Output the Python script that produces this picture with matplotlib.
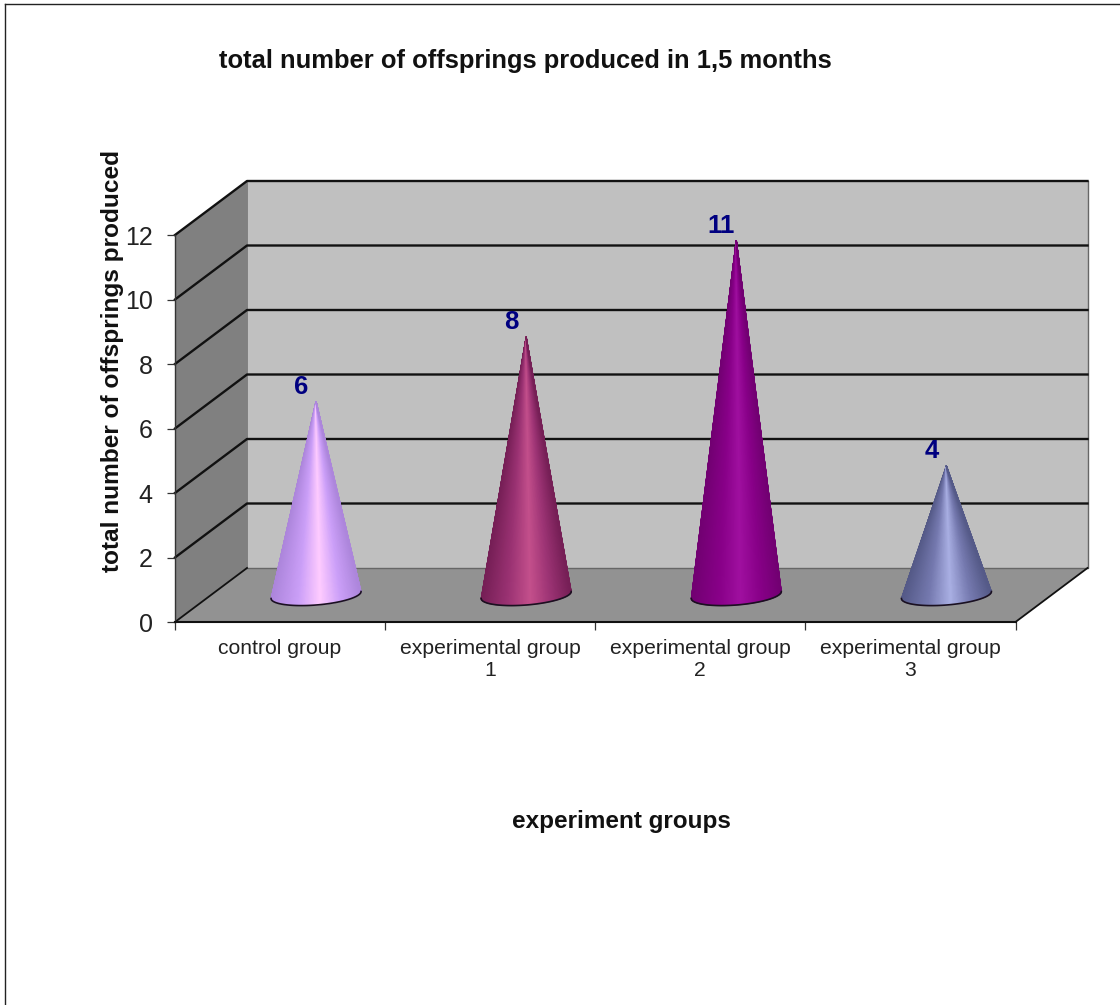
import numpy as np
import matplotlib
matplotlib.use('Agg')
import matplotlib.pyplot as plt
from matplotlib.colors import LinearSegmentedColormap
from matplotlib.lines import Line2D
from matplotlib.patches import Polygon

plt.rcParams['font.family'] = ['Liberation Sans', 'DejaVu Sans']

groups = ['control group', 'experimental group\n1', 'experimental group\n2', 'experimental group\n3']
offspring = [6, 8, 11, 4]
value_labels = ['6', '8', '11', '4']
y_ticks = [0, 2, 4, 6, 8, 10, 12]

# edge, middle, highlight colours of each cone
cone_colors = [('#ad86dc', '#cb9ff8', '#ffccff'),
               ('#761f56', '#9c3374', '#c4508c'),
               ('#720072', '#880088', '#a010a0'),
               ('#555a88', '#767ab0', '#aab0e4')]

W, H = 1120, 1005
fig = plt.figure(figsize=(W/100.0, H/100.0), dpi=100, facecolor='white')
ax = fig.add_axes([175.0/W, 1-622.0/H, 840.5/W, 387.0/H])
ax.set_xlim(0, 4)
ax.set_ylim(0, 12)
ax.patch.set_visible(False)

# depth of the fake 3d box, in data units
px_x = 4/840.5
px_y = 12/387.0
dx = 72*px_x
dy = 54*px_y

ax.add_patch(Polygon([(0, 0), (dx, dy), (dx, 12+dy), (0, 12)], fc='#808080', ec='none', clip_on=False, zorder=1))
ax.add_patch(Polygon([(dx, dy), (4+dx, dy), (4+dx, 12+dy), (dx, 12+dy)], fc='#c0c0c0', ec='none', clip_on=False, zorder=1))
ax.add_patch(Polygon([(0, 0), (4, 0), (4+dx, dy), (dx, dy)], fc='#929292', ec='none', clip_on=False, zorder=1))

# wall edges
ax.plot([dx, 4+dx, 4+dx], [dy, dy, 12+dy], color='#666666', lw=1.0, clip_on=False, zorder=1.5)
ax.plot([dx, dx], [dy, 12+dy], color='#777777', lw=0.6, clip_on=False, zorder=1.5)
ax.plot([0, dx], [0, dy], color='#111111', lw=1.3, clip_on=False, zorder=1.5)
ax.plot([4, 4+dx], [0, dy], color='#111111', lw=1.3, clip_on=False, zorder=1.5)

# gridlines go along the side wall and the back wall
for v in y_ticks[1:]:
    ax.plot([0, dx, 4+dx], [v, v+dy, v+dy], color='#111111', lw=1.7, clip_on=False, zorder=1.5)

# cones as a gouraud mesh from the tip down to the front half of the base
rx = 45*px_x
ry = 10*px_y
shear = 3.5*px_y
t = np.linspace(np.pi, 2*np.pi, 121)
for i in range(len(offspring)):
    cx = i+0.5+dx/2
    cy = dy/2
    edge, mid, high = cone_colors[i]
    cmap = LinearSegmentedColormap.from_list('c', [(0.0, edge), (0.3, mid), (0.55, high), (0.78, mid), (1.0, edge)])
    ex = cx+rx*np.cos(t)
    ey = cy+ry*np.sin(t)+shear*np.cos(t)
    tip = (cx, cy+offspring[i])
    X = np.vstack([np.full(t.shape, tip[0]), ex])
    Y = np.vstack([np.full(t.shape, tip[1]), ey])
    C = np.vstack([np.cos(t), np.cos(t)])
    ax.pcolormesh(X, Y, C, shading='gouraud', cmap=cmap, vmin=-1, vmax=1, clip_on=False, zorder=3)
    ax.plot(ex, ey, color='#1a1020', lw=1.2, clip_on=False, zorder=3.5)
    ax.annotate(value_labels[i], xy=tip, xytext=(-10.8, 10.5), textcoords='offset points',
                ha='center', va='center', fontsize=18.5, fontweight='bold', color='#000080',
                annotation_clip=False, zorder=4)

for s in ['top', 'right']:
    ax.spines[s].set_visible(False)
ax.spines['left'].set_color('#333333')
ax.spines['left'].set_linewidth(1.0)
ax.spines['bottom'].set_color('#111111')
ax.spines['bottom'].set_linewidth(1.5)

ax.set_yticks(y_ticks)
ax.tick_params(axis='y', length=6, width=0.9, color='#333333', labelsize=18, labelcolor='#222222', pad=10)
ax.set_xticks([0, 1, 2, 3, 4])
ax.set_xticklabels([])
ax.tick_params(axis='x', which='major', length=6, width=0.9, color='#333333')
ax.set_xticks([0.5, 1.5, 2.5, 3.5], minor=True)
ax.set_xticklabels(groups, minor=True, fontsize=15.2, color='#222222', linespacing=1.2)
ax.tick_params(axis='x', which='minor', length=0, pad=12.5)

fig.text(525.0/W, 1-61.0/H, 'total number of offsprings produced in 1,5 months', ha='center', va='center',
         fontsize=18.4, fontweight='bold', color='#111111')
fig.text(113.0/W, 1-361.0/H, 'total number of offsprings produced', ha='center', va='center', rotation=90,
         fontsize=17.6, fontweight='bold', color='#111111')
fig.text(621.0/W, 1-821.0/H, 'experiment groups', ha='center', va='center',
         fontsize=17.5, fontweight='bold', color='#111111')

# frame of the chart, only the left and top sides show
fig.add_artist(Line2D([5.0/W, 5.0/W], [0, 1-4.5/H], color='#222222', lw=1.0))
fig.add_artist(Line2D([5.0/W, 1], [1-4.5/H, 1-4.5/H], color='#222222', lw=1.0))

plt.savefig('out.png', dpi=100)
